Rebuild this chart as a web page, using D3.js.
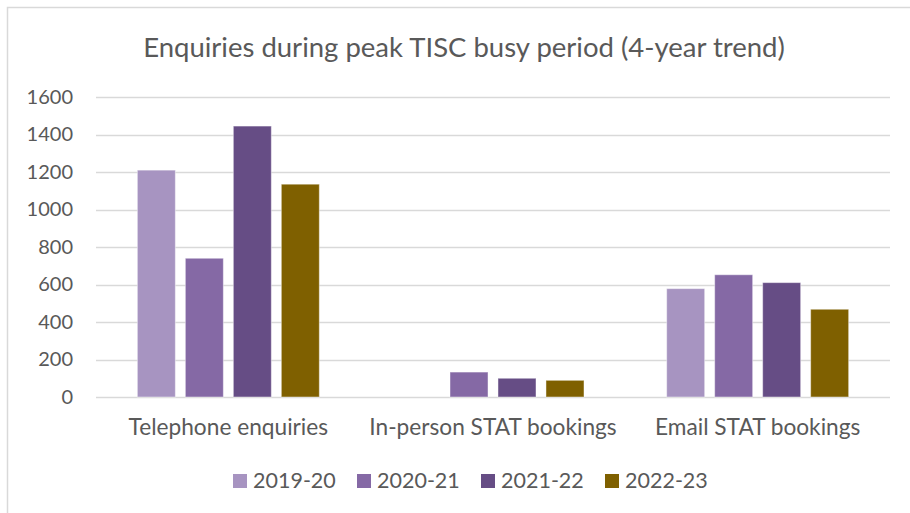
<!DOCTYPE html>
<html>
<head>
<meta charset="utf-8">
<script src="https://cdn.jsdelivr.net/npm/d3@7"></script>
<style>
  body { margin: 0; background: #fff; }
  svg { display: block; font-family: Lato, "Open Sans", sans-serif; }
</style>
</head>
<body>
<svg id="chart" width="910" height="513"></svg>
<script>
const categories = ["Telephone enquiries", "In-person STAT bookings", "Email STAT bookings"]
const years = ["2019-20", "2020-21", "2021-22", "2022-23"]
const v2019 = [1210, 0, 578]
const v2020 = [740, 133, 652]
const v2021 = [1445, 100, 610]
const v2022 = [1135, 89, 468]
const yTicks = [0, 200, 400, 600, 800, 1000, 1200, 1400, 1600]
const colors = ["#a794c1", "#8569a5", "#664d85", "#7f6000"]

const series = [v2019, v2020, v2021, v2022]

const svg = d3.select("#chart")
const textColor = "#595959"
const margin = {top: 97, left: 96}
const plotRight = 890
const plotBottom = 397

// outer frame of the chart area (runs off the right/bottom edge in the picture)
svg.append("rect")
    .attr("x", 7.5).attr("y", 7.5)
    .attr("width", 930).attr("height", 530)
    .attr("fill", "none")
    .attr("stroke", "#d9d9d9")
    .attr("stroke-width", 1.5)

svg.append("text")
    .attr("x", 464).attr("y", 57)
    .attr("text-anchor", "middle")
    .attr("fill", textColor)
    .attr("font-size", 27.5)
    .attr("font-weight", 400)
    .text("Enquiries during peak TISC busy period (4-year trend)")

let yScale = d3.scaleLinear()
    .domain([0, 1600])
    .range([plotBottom, margin.top])

let x0 = d3.scaleBand()
    .domain(categories)
    .range([margin.left, plotRight])
    .paddingInner(0.3124)
    .paddingOuter(0.1562)

let x1 = d3.scaleBand()
    .domain(years)
    .range([0, x0.bandwidth()])
    .paddingInner(0.208)
    .paddingOuter(0)

// gridlines
svg.append("g")
    .selectAll("line")
    .data(yTicks)
    .join("line")
    .attr("x1", margin.left)
    .attr("x2", plotRight)
    .attr("y1", d => Math.round(yScale(d)) + 0.5)
    .attr("y2", d => Math.round(yScale(d)) + 0.5)
    .attr("stroke", "#d9d9d9")
    .attr("stroke-width", 1.5)

let yAxis = g => g
    .attr("transform", `translate(73,0)`)
    .call(d3.axisLeft(yScale).tickValues(yTicks).tickFormat(d3.format("d")).tickSize(0).tickPadding(0))
    .call(g => g.select(".domain").remove())
    .call(g => g.selectAll("text")
        .attr("fill", textColor)
        .attr("font-size", 20)
        .attr("font-family", "Lato, sans-serif"))

svg.append("g").call(yAxis)

// bars
svg.append("g")
    .selectAll("g")
    .data(series)
    .join("g")
    .attr("fill", (d, i) => colors[i])
    .each(function (vals, si) {
        d3.select(this).selectAll("rect")
            .data(vals.map((v, ci) => ({v: v, c: categories[ci]})).filter(d => d.v > 0))
            .join("rect")
            .attr("x", d => x0(d.c) + x1(years[si]))
            .attr("width", x1.bandwidth())
            .attr("y", d => yScale(d.v))
            .attr("height", d => yScale(0) - yScale(d.v))
            .attr("stroke", "#ffffff")
            .attr("stroke-opacity", 0.45)
            .attr("stroke-width", 1)
    })

// category labels
let xAxis = g => g
    .attr("transform", `translate(0,${plotBottom})`)
    .call(d3.axisBottom(x0).tickSize(0).tickPadding(0))
    .call(g => g.select(".domain").remove())
    .call(g => g.selectAll("text")
        .attr("y", 38)
        .attr("dy", 0)
        .attr("fill", textColor)
        .attr("font-size", 22.7)
        .attr("font-family", "Lato, sans-serif"))

svg.append("g").call(xAxis)

// legend
const legendX = [233, 357, 481, 605]
let legend = svg.append("g")
    .selectAll("g")
    .data(years)
    .join("g")
    .attr("transform", (d, i) => `translate(${legendX[i]},474)`)

legend.append("rect")
    .attr("width", 14).attr("height", 14)
    .attr("fill", (d, i) => colors[i])

legend.append("text")
    .attr("x", 20).attr("y", 14)
    .attr("fill", textColor)
    .attr("font-size", 21.5)
    .text(d => d)
</script>
</body>
</html>
